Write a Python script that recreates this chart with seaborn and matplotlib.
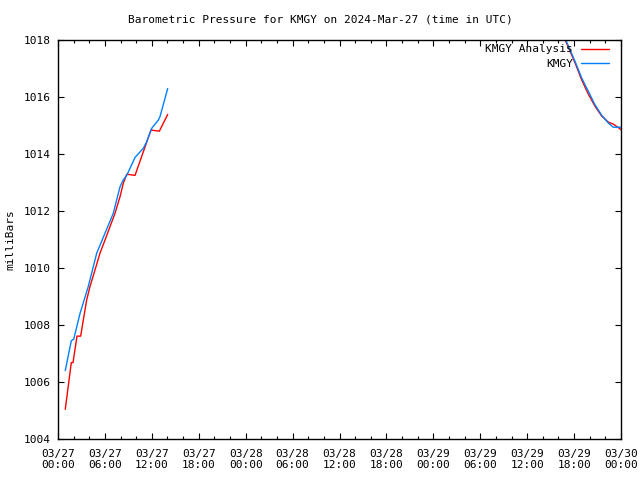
import numpy as np
import pandas as pd
import matplotlib
matplotlib.use("Agg")
import matplotlib.pyplot as plt
import seaborn as sns

# ---- data (hours since 2024-03-27 00:00 UTC, pressure in mb) ----
analysis_hours_a = [0.93, 1.70, 1.92, 2.43, 2.90, 3.24, 3.67, 4.09, 4.73, 5.37, 6.01, 6.65,
                    7.29, 7.93, 8.35, 8.79, 9.85, 11.89, 12.96, 14.03]
analysis_vals_a = [1005.04, 1006.68, 1006.68, 1007.61, 1007.61, 1008.18, 1008.88, 1009.35,
                   1009.93, 1010.52, 1010.98, 1011.45, 1011.92, 1012.50, 1012.97, 1013.29,
                   1013.25, 1014.84, 1014.80, 1015.39]
analysis_hours_b = [64.0, 66.12, 66.97, 67.82, 68.67, 69.53, 70.37, 71.01, 71.6, 72.0]
analysis_vals_b = [1018.55, 1017.20, 1016.60, 1016.10, 1015.68, 1015.33, 1015.12, 1015.05,
                   1014.94, 1014.85]

obs_hours_a = [0.93, 1.70, 2.01, 2.81, 3.87, 4.95, 6.01, 7.07, 7.93, 8.35, 8.79, 9.85,
               10.91, 11.34, 11.98, 12.83, 13.04, 14.03]
obs_vals_a = [1006.40, 1007.45, 1007.50, 1008.40, 1009.35, 1010.52, 1011.22, 1011.92,
              1012.85, 1013.09, 1013.25, 1013.88, 1014.20, 1014.43, 1014.90, 1015.19,
              1015.31, 1016.30]
obs_hours_b = [64.0, 66.12, 66.97, 67.82, 68.67, 69.53, 70.37, 71.01, 72.0]
obs_vals_b = [1018.60, 1017.25, 1016.67, 1016.20, 1015.73, 1015.36, 1015.09, 1014.94, 1014.94]

series_names = ["KMGY Analysis", "KMGY"]
series_colors = ["#ff0000", "#0080ff"]

tick_hours = [0, 6, 12, 18, 24, 30, 36, 42, 48, 54, 60, 66, 72]
tick_labels = ["03/27\n00:00", "03/27\n06:00", "03/27\n12:00", "03/27\n18:00",
               "03/28\n00:00", "03/28\n06:00", "03/28\n12:00", "03/28\n18:00",
               "03/29\n00:00", "03/29\n06:00", "03/29\n12:00", "03/29\n18:00",
               "03/30\n00:00"]
y_ticks = [1004, 1006, 1008, 1010, 1012, 1014, 1016, 1018]

title = "Barometric Pressure for KMGY on 2024-Mar-27 (time in UTC)"
ylabel = "milliBars"

# ---- assemble ----
frames = []
for name, seg, h, v in [
    (series_names[0], "a0", analysis_hours_a, analysis_vals_a),
    (series_names[0], "a1", analysis_hours_b, analysis_vals_b),
    (series_names[1], "b0", obs_hours_a, obs_vals_a),
    (series_names[1], "b1", obs_hours_b, obs_vals_b),
]:
    frames.append(pd.DataFrame({"hours": h, "mb": v, "series": name, "seg": seg}))
df = pd.concat(frames, ignore_index=True)

sns.set_theme(style="white")
plt.rcParams["font.family"] = ["DejaVu Sans Mono"]
plt.rcParams["font.size"] = 8
for k in ["text.color", "axes.labelcolor", "xtick.color", "ytick.color", "axes.edgecolor"]:
    plt.rcParams[k] = "black"

fig = plt.figure(figsize=(6.4, 4.8), dpi=100)
ax = fig.add_axes([58 / 640, 41 / 480, 563 / 640, 399 / 480])

sns.lineplot(data=df, x="hours", y="mb", hue="series", units="seg", estimator=None,
             palette=dict(zip(series_names, series_colors)), hue_order=series_names,
             linewidth=1.0, ax=ax, sort=False)

ax.set_xlim(0, 72)
ax.set_ylim(1004, 1018)
ax.set_xticks(tick_hours)
ax.set_xticklabels(tick_labels, fontsize=8)
ax.set_xticks(np.arange(0, 73, 2), minor=True)
ax.set_yticks(y_ticks)
ax.set_yticklabels([str(t) for t in y_ticks], fontsize=8)
ax.tick_params(which="both", direction="in", top=True, right=True, bottom=True, left=True,
               color="black", labelcolor="black", width=0.8)
ax.tick_params(which="major", length=4.5)
ax.tick_params(which="minor", length=2.2)
ax.tick_params(axis="x", which="major", pad=7)
ax.tick_params(axis="y", which="major", pad=5)
for s in ax.spines.values():
    s.set_color("black")
    s.set_linewidth(1.0)
ax.set_xlabel("")
ax.set_ylabel(ylabel, fontsize=8, labelpad=6, color="black")
fig.text(0.5, 1 - 20 / 480, title, ha="center", va="center", fontsize=8, color="black")

leg = ax.legend(loc="upper right", frameon=False, markerfirst=False, fontsize=8,
                handlelength=2.5, handletextpad=0.7, labelspacing=0.4,
                borderaxespad=0.0, borderpad=0.4,
                bbox_to_anchor=(1 - 8 / 563, 1.0))
for col in leg._legend_handle_box.get_children():
    col.align = "right"
for t in leg.get_texts():
    t.set_color("black")

fig.savefig("out.png", dpi=100, facecolor="white")
